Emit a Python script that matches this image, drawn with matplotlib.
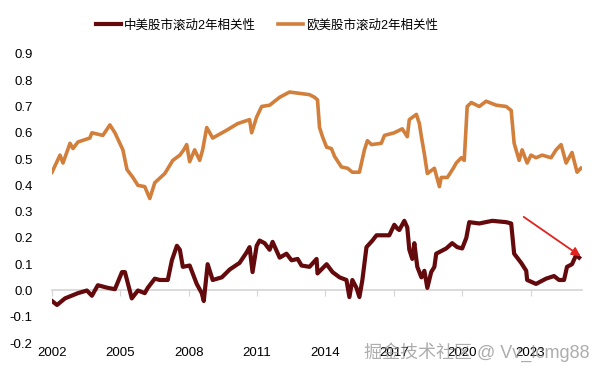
import matplotlib
matplotlib.use("Agg")
import matplotlib.pyplot as plt

plt.rcParams['font.family'] = ['Liberation Sans', 'Noto Sans CJK SC', 'DejaVu Sans']

# China-US rolling 2y correlation (decimal year, value)
cn_years = [2002.00, 2002.22, 2002.57, 2003.14, 2003.53, 2003.75, 2004.01, 2004.45, 2004.76,
            2005.07, 2005.20, 2005.50, 2005.77, 2006.07, 2006.20, 2006.51, 2006.73, 2007.08,
            2007.26, 2007.48, 2007.61, 2007.74, 2008.04, 2008.13, 2008.35, 2008.57, 2008.66,
            2008.83, 2009.05, 2009.45, 2009.80, 2010.23, 2010.54, 2010.67, 2010.80, 2010.98,
            2011.11, 2011.33, 2011.55, 2011.68, 2011.99, 2012.29, 2012.51, 2012.78, 2012.95,
            2013.30, 2013.61, 2013.65, 2014.05, 2014.31, 2014.62, 2014.92, 2015.05, 2015.18,
            2015.36, 2015.49, 2015.62, 2015.80, 2016.06, 2016.24, 2016.80, 2017.02, 2017.16,
            2017.24, 2017.46, 2017.59, 2017.68, 2017.81, 2017.90, 2018.03, 2018.21, 2018.34,
            2018.47, 2018.64, 2018.78, 2018.86, 2019.30, 2019.56, 2019.78, 2020.00, 2020.18,
            2020.31, 2020.75, 2021.32, 2021.93, 2022.15, 2022.28, 2022.59, 2022.81, 2022.85,
            2023.24, 2023.68, 2024.03, 2024.25, 2024.47, 2024.60, 2024.82, 2025.00, 2025.13]
cn_corr = [-0.04, -0.055, -0.03, -0.01, 0.0, -0.02, 0.02, 0.01, 0.005,
           0.07, 0.07, -0.03, 0.0, -0.01, 0.01, 0.045, 0.04, 0.04,
           0.115, 0.17, 0.155, 0.09, 0.095, 0.075, 0.025, -0.01, -0.04,
           0.10, 0.04, 0.05, 0.08, 0.105, 0.145, 0.165, 0.07, 0.17,
           0.19, 0.18, 0.155, 0.185, 0.125, 0.14, 0.115, 0.12, 0.095,
           0.09, 0.12, 0.065, 0.10, 0.07, 0.05, 0.04, -0.025, 0.04,
           0.01, -0.025, 0.04, 0.165, 0.19, 0.21, 0.21, 0.25, 0.235,
           0.23, 0.265, 0.24, 0.155, 0.12, 0.18, 0.09, 0.05, 0.075,
           0.01, 0.07, 0.09, 0.14, 0.16, 0.18, 0.165, 0.16, 0.20,
           0.26, 0.255, 0.265, 0.26, 0.255, 0.14, 0.105, 0.075, 0.04,
           0.025, 0.045, 0.055, 0.04, 0.04, 0.09, 0.10, 0.135, 0.125]

# Europe-US rolling 2y correlation
eu_years = [2002.00, 2002.35, 2002.48, 2002.79, 2002.92, 2003.14, 2003.66, 2003.75, 2004.23,
            2004.54, 2004.76, 2005.11, 2005.29, 2005.55, 2005.77, 2006.07, 2006.29, 2006.51,
            2006.95, 2007.30, 2007.61, 2007.78, 2007.91, 2008.04, 2008.26, 2008.48, 2008.61,
            2008.79, 2009.05, 2009.67, 2010.15, 2010.67, 2010.76, 2010.98, 2011.20, 2011.55,
            2011.99, 2012.42, 2012.86, 2013.30, 2013.52, 2013.65, 2013.74, 2013.87, 2014.05,
            2014.26, 2014.40, 2014.70, 2014.97, 2015.18, 2015.49, 2015.71, 2015.84, 2016.02,
            2016.45, 2016.59, 2017.02, 2017.37, 2017.59, 2017.68, 2017.99, 2018.12, 2018.21,
            2018.34, 2018.47, 2018.78, 2019.00, 2019.08, 2019.35, 2019.61, 2019.74, 2019.96,
            2020.09, 2020.22, 2020.40, 2020.75, 2021.05, 2021.49, 2021.93, 2022.15, 2022.28,
            2022.50, 2022.63, 2022.85, 2023.02, 2023.24, 2023.51, 2023.90, 2024.12, 2024.34,
            2024.56, 2024.82, 2025.04, 2025.21]
eu_corr = [0.45, 0.515, 0.485, 0.56, 0.54, 0.565, 0.58, 0.60, 0.59,
           0.63, 0.60, 0.535, 0.46, 0.43, 0.40, 0.395, 0.35, 0.41,
           0.445, 0.495, 0.515, 0.535, 0.555, 0.49, 0.535, 0.495, 0.535,
           0.62, 0.58, 0.61, 0.635, 0.65, 0.60, 0.66, 0.70, 0.705,
           0.735, 0.755, 0.75, 0.745, 0.735, 0.725, 0.62, 0.585, 0.545,
           0.54, 0.51, 0.47, 0.465, 0.45, 0.45, 0.535, 0.57, 0.555,
           0.56, 0.59, 0.60, 0.615, 0.585, 0.65, 0.67, 0.635, 0.585,
           0.52, 0.445, 0.465, 0.395, 0.43, 0.43, 0.465, 0.485, 0.505,
           0.495, 0.70, 0.715, 0.70, 0.72, 0.705, 0.70, 0.685, 0.56,
           0.495, 0.535, 0.485, 0.515, 0.505, 0.515, 0.505, 0.535, 0.555,
           0.485, 0.525, 0.45, 0.465]

labels = ['中美股市滚动2年相关性', '欧美股市滚动2年相关性']
x_ticks = [2002, 2005, 2008, 2011, 2014, 2017, 2020, 2023]
y_ticks = [-0.2, -0.1, 0.0, 0.1, 0.2, 0.3, 0.4, 0.5, 0.6, 0.7, 0.8, 0.9]
arrow_from = (2022.7, 0.28)
arrow_to = (2025.2, 0.13)

fig = plt.figure(figsize=(6, 3.77), dpi=100)
ax = fig.add_axes([0.0867, 0.09, 0.883, 0.767])

ax.plot(cn_years, cn_corr, color='#650a0c', lw=3.0, label=labels[0], zorder=3)
ax.plot(eu_years, eu_corr, color='#d27f3c', lw=2.6, label=labels[1], zorder=3)

ax.set_xlim(2002, 2025.25)
ax.set_ylim(-0.2, 0.9)

# axis line at zero with small ticks, labels at the bottom
for s in ['top', 'right', 'left']:
    ax.spines[s].set_visible(False)
ax.spines['bottom'].set_position(('data', 0))
ax.spines['bottom'].set_color('#d4d4d4')
ax.spines['bottom'].set_linewidth(1.2)
ax.set_xticks(x_ticks)
ax.tick_params(axis='x', length=4, color='#d4d4d4', labelbottom=False)

sec = ax.secondary_xaxis(0)
sec.set_xticks(x_ticks)
sec.spines['bottom'].set_visible(False)
sec.tick_params(length=0, pad=3, labelsize=9.5)

ax.set_yticks(y_ticks)
ax.set_yticklabels(['%.1f' % v for v in y_ticks])
ax.tick_params(axis='y', length=0, pad=14, labelsize=9.5)

ax.annotate('', xy=arrow_to, xytext=arrow_from,
            arrowprops=dict(arrowstyle='-|>', color='#e0231f', lw=1.3,
                            mutation_scale=13, shrinkA=0, shrinkB=0), zorder=4)

fig.legend(loc='center', bbox_to_anchor=(0.445, 0.933), ncol=2, frameon=False,
           fontsize=9, handlelength=2.0, handletextpad=0.2, columnspacing=1.8)

# watermark (semi-transparent, tick labels show through like the original)
fig.text(0.983, 0.065, '掘金技术社区 @ Vv_lcmg88', ha='right', va='center',
         fontsize=13, color='#8a8a8a', alpha=0.7)

fig.savefig('out.png', dpi=100)
